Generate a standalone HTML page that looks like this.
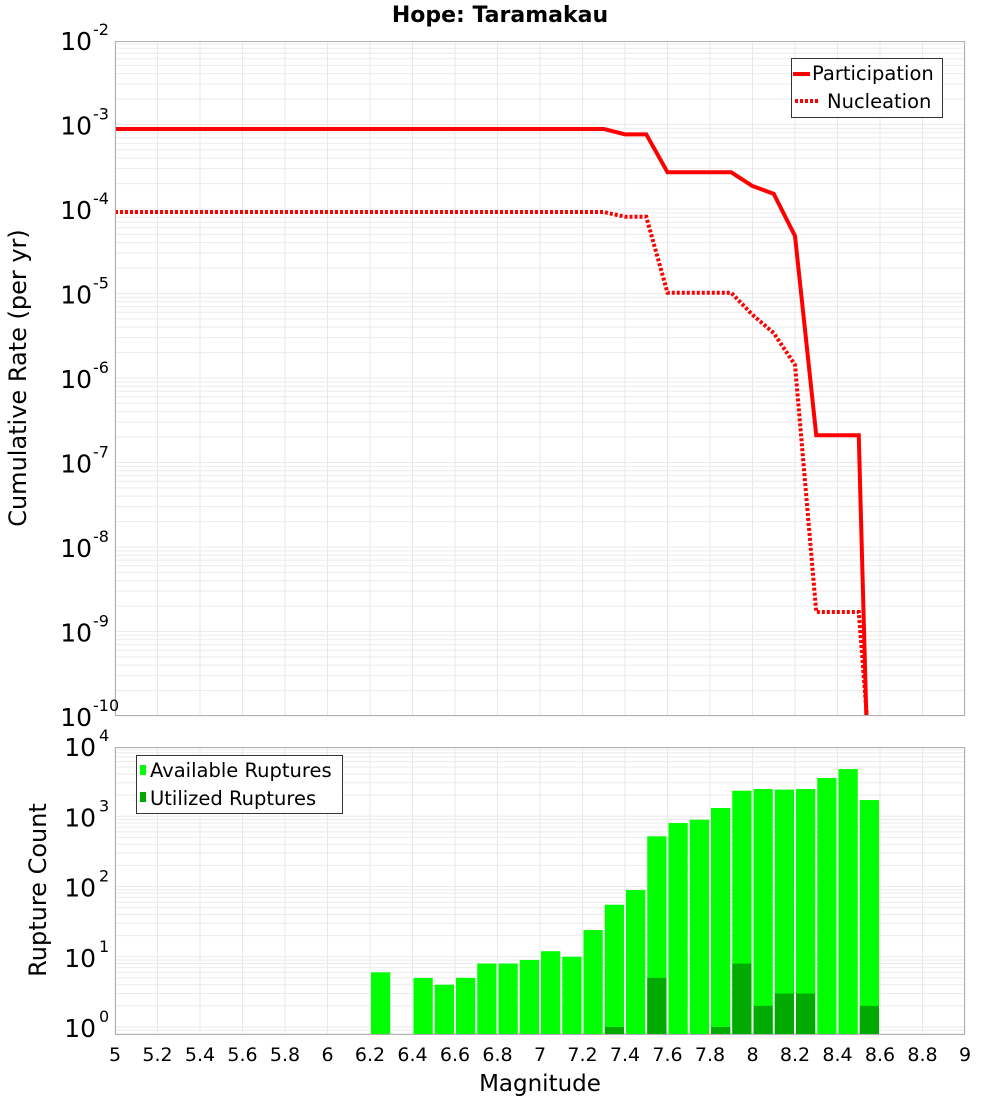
<!DOCTYPE html>
<html><head><meta charset="utf-8"><style>
html,body{margin:0;background:#fff;overflow:hidden;width:1000px;height:1100px}
svg{display:block}
svg text{font-family:"DejaVu Sans","Liberation Sans",sans-serif;fill:#000}
</style></head><body>
<svg id="chart" width="1000" height="1100" xmlns="http://www.w3.org/2000/svg">
<defs>
<clipPath id="clipTop"><rect x="115" y="41" width="850" height="675"/></clipPath>
<clipPath id="clipBot"><rect x="115" y="747" width="850" height="288"/></clipPath>
</defs>
<text x="500" y="22" text-anchor="middle" font-size="22" font-weight="bold">Hope: Taramakau</text>
<g id="gridTop"></g>
<g id="gridBot"></g>
<g id="bars" clip-path="url(#clipBot)"></g>
<g id="lines" clip-path="url(#clipTop)"></g>
<rect x="115.5" y="41.5" width="849" height="674" fill="none" stroke="#b0b0b0"/>
<rect x="115.5" y="747.5" width="849" height="287" fill="none" stroke="#b0b0b0"/>
<g id="axes"></g>
<text transform="translate(26,378) rotate(-90)" text-anchor="middle" font-size="24">Cumulative Rate (per yr)</text>
<text transform="translate(46,890) rotate(-90)" text-anchor="middle" font-size="24">Rupture Count</text>
<text x="540" y="1091" text-anchor="middle" font-size="23">Magnitude</text>
<g>
<rect x="791.5" y="58.5" width="151" height="59" fill="#fff" stroke="#333"/>
<line x1="793" y1="74" x2="810" y2="74" stroke="#f00" stroke-width="4"/>
<text x="812" y="80" font-size="19.5">Participation</text>
<line x1="795" y1="101" x2="819" y2="101" stroke="#f00" stroke-width="4" stroke-dasharray="3,2"/>
<text x="827" y="108" font-size="19.5">Nucleation</text>
</g>
<g>
<rect x="136.5" y="755.5" width="206" height="58" fill="#fff" stroke="#333"/>
<rect x="140" y="765" width="6" height="10" fill="#00ff00"/>
<text x="150" y="777" font-size="19.5">Available Ruptures</text>
<rect x="140" y="792" width="6" height="10" fill="#00aa00"/>
<text x="150" y="805" font-size="19.5">Utilized Ruptures</text>
</g>
</svg>
<script>
const partMags=[5,7.3,7.4,7.5,7.6,7.7,7.8,7.9,8.0,8.1,8.2,8.3,8.4,8.5,8.6];
const partRates=[8.85e-4,8.85e-4,7.65e-4,7.65e-4,2.72e-4,2.72e-4,2.72e-4,2.72e-4,1.87e-4,1.51e-4,4.8e-5,2.1e-7,2.1e-7,2.1e-7,1e-16];
const nuclMags=[5,7.3,7.4,7.5,7.6,7.7,7.8,7.9,8.0,8.1,8.2,8.3,8.4,8.5,8.6];
const nuclRates=[9.2e-5,9.2e-5,8.1e-5,8.1e-5,1.02e-5,1.02e-5,1.02e-5,1.02e-5,5.6e-6,3.4e-6,1.43e-6,1.7e-9,1.7e-9,1.7e-9,1e-12];
const binCenters=[6.25,6.45,6.55,6.65,6.75,6.85,6.95,7.05,7.15,7.25,7.35,7.45,7.55,7.65,7.75,7.85,7.95,8.05,8.15,8.25,8.35,8.45,8.55];
const availCounts=[6,5,4,5,8,8,9,12,10,24,55,89,518,800,893,1310,2310,2440,2390,2440,3500,4700,1700];
const usedCounts=[0,0,0,0,0,0,0,0,0,0,1,0,5,0,0,1,8,2,3,3,0,0,2];
const xTicks=["5","5.2","5.4","5.6","5.8","6","6.2","6.4","6.6","6.8","7","7.2","7.4","7.6","7.8","8","8.2","8.4","8.6","8.8","9"];
const topExps=[-2,-3,-4,-5,-6,-7,-8,-9,-10];
const botExps=[4,3,2,1,0];

const NS="http://www.w3.org/2000/svg";
const X=m=>115+(m-5)*212.5;
const YT=v=>40-(Math.log10(v)+2)*84.5;
const YB=v=>1027-Math.log10(v)*70.25;
function mk(tag,attrs,parent){const e=document.createElementNS(NS,tag);for(const k in attrs)e.setAttribute(k,attrs[k]);parent.appendChild(e);return e;}
const gT=document.getElementById('gridTop'),gB=document.getElementById('gridBot'),ax=document.getElementById('axes');
for(const t of xTicks){const x=X(+t);
 let l=mk('line',{x1:x,x2:x,y1:41,y2:716,stroke:'#e8e8e8'},gT);
 
 l=mk('line',{x1:x,x2:x,y1:747,y2:1035,stroke:'#e8e8e8'},gB);
 }
for(let e=-10;e<-2;e++)for(let k=1;k<10;k++){const y=YT(k*Math.pow(10,e));
 const l=mk('line',{x1:115,x2:965,y1:y,y2:y,stroke:'#ebebeb'},gT);
 }
for(let e=-1;e<4;e++)for(let k=1;k<10;k++){const y=YB(k*Math.pow(10,e));if(y>1035||y<747)continue;
 const l=mk('line',{x1:115,x2:965,y1:y,y2:y,stroke:'#ebebeb'},gB);
 }
for(const t of xTicks){const tx=mk('text',{x:X(+t),y:1061,'text-anchor':'middle','font-size':19},ax);tx.textContent=t;
 }
for(const e of topExps){const y=YT(Math.pow(10,e));
 const tx=mk('text',{x:92,y:y+10,'text-anchor':'end','font-size':25},ax);tx.textContent='10';
 
 const s=mk('text',{x:93,y:y-5,'text-anchor':'start','font-size':16},ax);s.textContent=String(e);
 }
for(const e of botExps){const y=YB(Math.pow(10,e));
 const tx=mk('text',{x:96,y:y+10,'text-anchor':'end','font-size':25},ax);tx.textContent='10';
 
 const s=mk('text',{x:99,y:y-5,'text-anchor':'start','font-size':16},ax);s.textContent=String(e);
 }
const bars=document.getElementById('bars');
binCenters.forEach((c,i)=>{const x0=X(c-0.05)+1,w=X(c+0.05)-X(c-0.05)-2;
 if(availCounts[i]>0){const y=YB(availCounts[i]);
  const r=mk('rect',{x:x0,y:y,width:w,height:1040-y,fill:'#00ff00'},bars);
  }
 if(usedCounts[i]>0){const y=YB(usedCounts[i]);
  const r=mk('rect',{x:x0,y:y,width:w,height:1040-y,fill:'#00aa00'},bars);
  }
});
const lg=document.getElementById('lines');
const pp=mk('polyline',{points:partMags.map((m,i)=>X(m)+','+YT(partRates[i])).join(' '),fill:'none',stroke:'#f00','stroke-width':4},lg);

const np=mk('polyline',{points:nuclMags.map((m,i)=>X(m)+','+YT(nuclRates[i])).join(' '),fill:'none',stroke:'#f00','stroke-width':4,'stroke-dasharray':'3,2'},lg);

</script>
</body></html>
